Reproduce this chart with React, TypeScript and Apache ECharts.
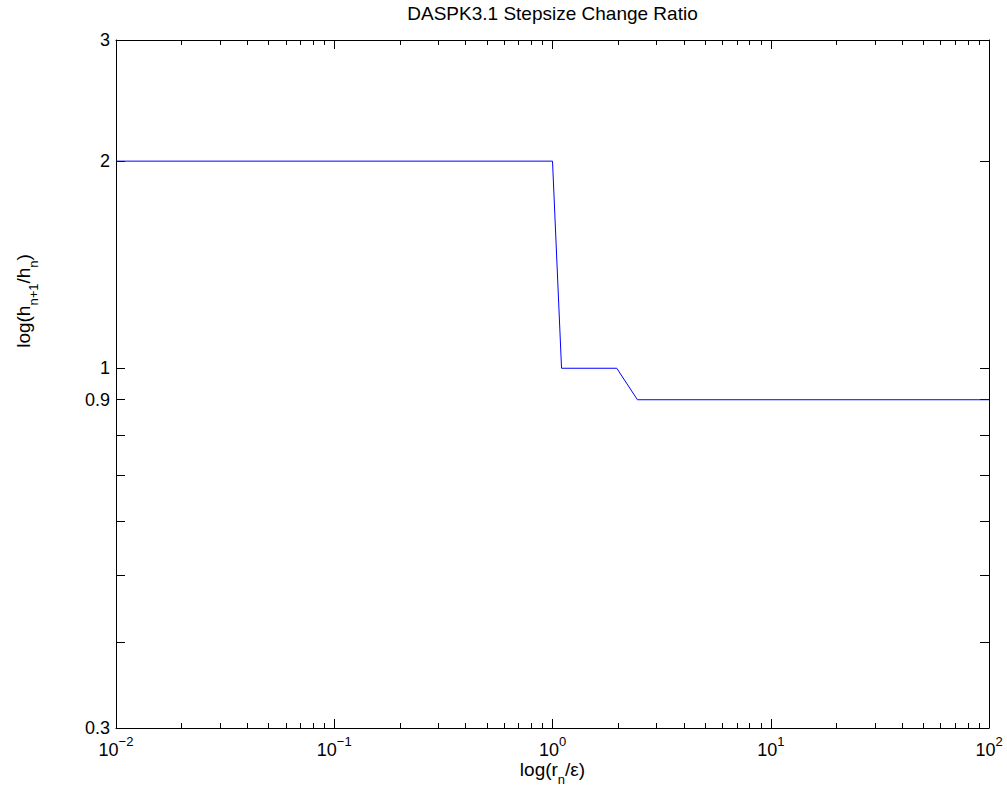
import { useEffect, useRef } from "react";
import * as echarts from "echarts";

// ---- data ----
const titleText = "DASPK3.1 Stepsize Change Ratio";
const xValues = [0.01, 1.0, 1.1, 1.97, 2.45, 100];
const yValues = [2, 2, 1, 1, 0.9, 0.9];
const xMin = 0.01;
const xMax = 100;
const yMin = 0.3;
const yMax = 3;
const xMinorMultipliers = [2, 3, 4, 5, 6, 7, 8, 9];
const yTickValues = [0.3, 0.4, 0.5, 0.6, 0.7, 0.8, 0.9, 1, 2, 3];
const yLabelValues = [0.3, 0.9, 1, 2, 3];

const FONT = "'Liberation Sans', Arial, Helvetica, sans-serif";

export default function App() {
  const ref = useRef<HTMLDivElement>(null);

  useEffect(() => {
    if (!ref.current) return;
    const chart = echarts.init(ref.current, undefined, { renderer: "svg" });

    const lx0 = Math.log10(xMin);
    const lx1 = Math.log10(xMax);
    const ly0 = Math.log10(yMin);
    const ly1 = Math.log10(yMax);

    const minorX: number[] = [];
    for (let d = Math.round(lx0); d < Math.round(lx1); d++) {
      xMinorMultipliers.forEach((m) => minorX.push(Math.log10(m) + d));
    }
    const yTicks = yTickValues.map((v) => Math.log10(v));
    const yLabels = yLabelValues.map((v) => Math.log10(v));

    const data = xValues.map((x, i) => [Math.log10(x), Math.log10(yValues[i])]);

    const baseX = {
      type: "value" as const,
      min: lx0,
      max: lx1,
      interval: 1,
      splitLine: { show: false },
    };
    const baseY = {
      type: "value" as const,
      min: ly0,
      max: ly1,
      splitLine: { show: false },
    };
    const lineStyle = { color: "#000", width: 1 };
    const axisLineOn = { show: true, onZero: false, lineStyle };
    const axisLineOff = { show: false, onZero: false };

    const supRich = {
      b: { fontSize: 18, lineHeight: 30, fontFamily: FONT, color: "#000" },
      s: { fontSize: 13, lineHeight: 13, fontFamily: FONT, color: "#000", verticalAlign: "top" },
    };
    const subRich = {
      m: { fontSize: 19, lineHeight: 33, fontFamily: FONT, color: "#000" },
      u: { fontSize: 13, lineHeight: 13, fontFamily: FONT, color: "#000", verticalAlign: "bottom" },
    };

    chart.setOption({
      animation: false,
      backgroundColor: "#fff",
      title: {
        text: titleText,
        left: 552.5,
        top: 3,
        padding: 0,
        textAlign: "center",
        textStyle: { fontSize: 19, fontWeight: "normal", fontFamily: FONT, color: "#000", lineHeight: 20 },
      },
      grid: { left: 116, right: 18, top: 40, bottom: 59, containLabel: false },
      xAxis: [
        {
          ...baseX,
          position: "bottom",
          axisLine: axisLineOn,
          axisTick: { show: true, inside: true, length: 9, lineStyle },
          axisLabel: {
            show: true,
            margin: 7,
            formatter: (v: number) => {
              const e = Math.round(v);
              return `{b|10}{s|${e < 0 ? "\u2212" + -e : e}}`;
            },
            rich: supRich,
          },
        },
        {
          ...baseX,
          position: "bottom",
          axisLine: axisLineOff,
          axisTick: { show: true, inside: true, length: 5, lineStyle, customValues: minorX },
          axisLabel: { show: false },
        },
        {
          ...baseX,
          position: "top",
          axisLine: axisLineOn,
          axisTick: { show: true, inside: true, length: 9, lineStyle },
          axisLabel: { show: false },
        },
        {
          ...baseX,
          position: "top",
          axisLine: axisLineOff,
          axisTick: { show: true, inside: true, length: 5, lineStyle, customValues: minorX },
          axisLabel: { show: false },
        },
      ],
      yAxis: [
        {
          ...baseY,
          position: "left",
          axisLine: axisLineOn,
          axisTick: { show: true, inside: true, length: 9, lineStyle, customValues: yTicks },
          axisLabel: {
            show: true,
            margin: 6,
            customValues: yLabels,
            fontSize: 18,
            fontFamily: FONT,
            color: "#000",
            formatter: (v: number) => String(Number(Math.pow(10, v).toFixed(1))),
          },
        },
        {
          ...baseY,
          position: "right",
          axisLine: axisLineOn,
          axisTick: { show: true, inside: true, length: 9, lineStyle, customValues: yTicks },
          axisLabel: { show: false },
        },
      ],
      graphic: [
        {
          type: "text",
          x: 552.5,
          y: 769.5,
          style: {
            text: "{m|log(r}{u|n}{m|/\u03b5)}",
            align: "center",
            verticalAlign: "middle",
            rich: subRich,
          },
        },
        {
          type: "text",
          x: 23.4,
          y: 301,
          rotation: Math.PI / 2,
          style: {
            text: "{m|log(h}{u|n+1}{m|/h}{u|n}{m|)}",
            align: "center",
            verticalAlign: "middle",
            rich: subRich,
          },
        },
      ],
      series: [
        {
          type: "line",
          xAxisIndex: 0,
          yAxisIndex: 0,
          data,
          showSymbol: false,
          symbol: "none",
          lineStyle: { color: "#0000ff", width: 1 },
        },
      ],
    });

    return () => chart.dispose();
  }, []);

  return (
    <div
      ref={ref}
      style={{ position: "fixed", left: 0, top: 0, width: 1007, height: 787, background: "#fff" }}
    />
  );
}
